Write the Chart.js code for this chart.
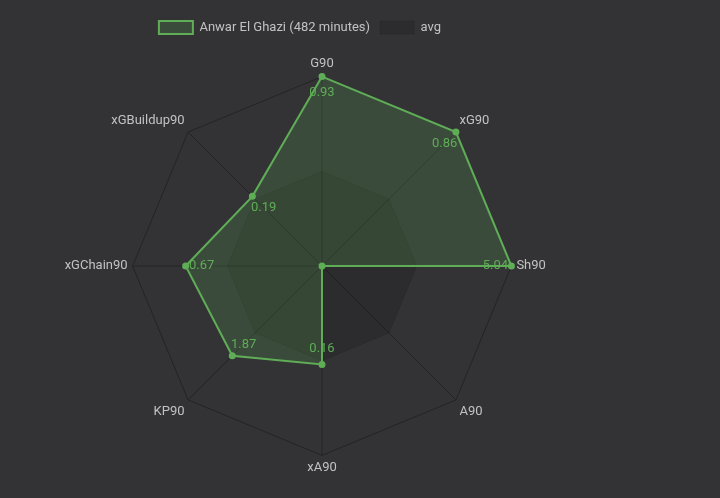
<!DOCTYPE html>
<html>
<head>
<meta charset="utf-8">
<script src="https://cdn.jsdelivr.net/npm/chart.js@4"></script>
<style>
html,body{margin:0;padding:0;background:#333335;}
#wrap{width:600px;height:498px;}
</style>
</head>
<body>
<div id="wrap"><canvas id="radar"></canvas></div>
<script>
const labels = ["G90","xG90","Sh90","A90","xA90","KP90","xGChain90","xGBuildup90"]

// raw per-90 numbers shown next to the points
const playerRaw = [0.93,0.86,5.04,0,0.16,1.87,0.67,0.19]
// scaled radius of each point (1 = outer ring, 0.5 = average)
const playerScaled = [1,1,1,0,0.52,0.67,0.72,0.52]
const avgScaled = [0.5,0.5,0.5,0.5,0.5,0.5,0.5,0.5]

const playerName = "Anwar El Ghazi (482 minutes)"

const green = "#5fae57"
const textGrey = "#c2c2c2"

// draws the raw value of each point, pulled in toward the centre
const valueLabels = {
id:"valueLabels",
afterDatasetsDraw(chart){
let ctx = chart.ctx
let scale = chart.scales.r
let meta = chart.getDatasetMeta(0)
ctx.save()
ctx.font = "13px Roboto"
ctx.fillStyle = green
ctx.textAlign = "center"
ctx.textBaseline = "middle"
meta.data.forEach(function(pt,i){
let v = playerRaw[i]
if(v === 0) return
let dx = scale.xCenter - pt.x
let dy = scale.yCenter - pt.y
let d = Math.sqrt(dx*dx+dy*dy) || 1
let off = 16
ctx.fillText(v.toFixed(2), pt.x + dx/d*off, pt.y + dy/d*off)
})
ctx.restore()
}
}

// a bit more room under the legend, and keep it centred on the page area
const legendSpace = {
id:"legendSpace",
beforeInit(chart){
let fit = chart.legend.fit
chart.legend.fit = function(){
fit.bind(chart.legend)()
this.height += 12
}
},
afterLayout(chart){
chart.legend.left -= 22
chart.legend.right -= 22
}
}

new Chart(document.getElementById("radar"),{
type:"radar",
data:{
labels:labels,
datasets:[{
label:playerName,
data:playerScaled,
borderColor:green,
backgroundColor:"rgba(95,174,87,0.2)",
borderWidth:2,
pointRadius:2.5,
pointBackgroundColor:green,
pointBorderColor:green
},{
label:"avg",
data:avgScaled,
borderColor:"rgba(0,0,0,0.12)",
backgroundColor:"rgba(0,0,0,0.12)",
borderWidth:1,
pointRadius:0
}]
},
options:{
responsive:true,
maintainAspectRatio:false,
animation:false,
layout:{padding:{left:44,top:11,bottom:21}},
plugins:{
legend:{
labels:{
color:textGrey,
font:{family:"Roboto",size:13},
boxWidth:34,
boxHeight:13
}
},
tooltip:{enabled:false}
},
scales:{
r:{
min:0,
max:1,
ticks:{display:false,stepSize:1},
grid:{color:"#242426"},
angleLines:{color:"#242426"},
pointLabels:{color:textGrey,font:{family:"Roboto",size:13}}
}
}
},
plugins:[valueLabels,legendSpace]
})
</script>
</body>
</html>
